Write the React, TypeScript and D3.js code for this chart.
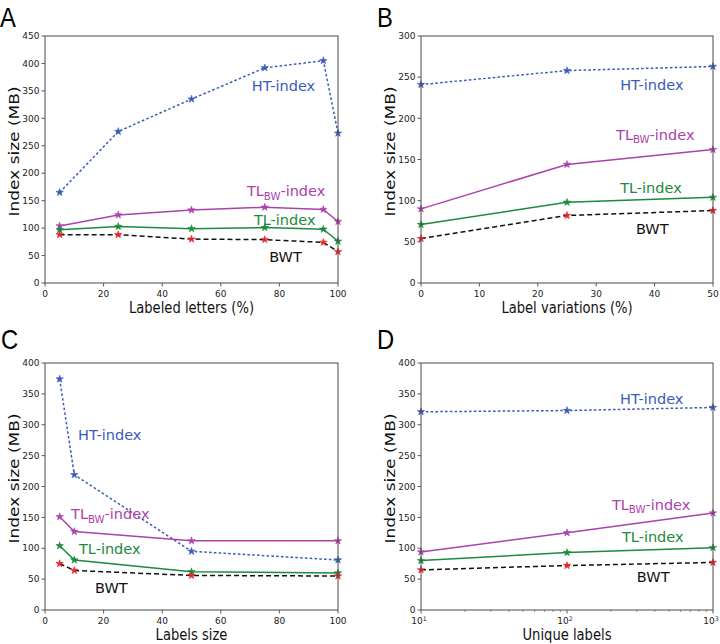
import React from "react";
import * as d3 from "d3";

// ---------- data ----------
// Panel A: labeled letters (%)
const lettersX = [5, 25, 50, 75, 95, 100];
const lettersHT = [165, 276, 335, 392, 405, 273];
const lettersTLBW = [104, 124, 133, 138, 134, 112];
const lettersTL = [97, 103, 99, 101, 98, 76];
const lettersBWT = [88, 88, 80, 79, 74, 57];
const lettersXTicks = [0, 20, 40, 60, 80, 100];
const lettersYTicks = [0, 50, 100, 150, 200, 250, 300, 350, 400, 450];

// Panel B: label variations (%)
const variationsX = [0, 25, 50];
const variationsHT = [241, 258, 263];
const variationsTLBW = [90, 144, 162];
const variationsTL = [71, 98, 104];
const variationsBWT = [54, 82, 88];
const variationsXTicks = [0, 10, 20, 30, 40, 50];
const variationsYTicks = [0, 50, 100, 150, 200, 250, 300];

// Panel C: labels size
const sizeX = [5, 10, 50, 100];
const sizeHT = [374, 219, 95, 81];
const sizeTLBW = [151, 127, 112, 112];
const sizeTL = [104, 81, 62, 60];
const sizeBWT = [75, 64, 56, 55];
const sizeXTicks = [0, 20, 40, 60, 80, 100];
const sizeYTicks = [0, 50, 100, 150, 200, 250, 300, 350, 400];

// Panel D: unique labels (log)
const uniqueX = [10, 100, 1000];
const uniqueHT = [321, 323, 328];
const uniqueTLBW = [94, 125, 157];
const uniqueTL = [80, 93, 101];
const uniqueBWT = [65, 72, 77];
const uniqueXTicks = [10, 100, 1000];
const uniqueXTickExp = ["1", "2", "3"];
const uniqueYTicks = [0, 50, 100, 150, 200, 250, 300, 350, 400];

const seriesNames = ["HT", "TLBW", "TL", "BWT"];

// annotation anchors (data coordinates: left x, baseline y)
const lettersLabelX = [70.6, 68.9, 71.3, 76.5];
const lettersLabelY = [350, 158, 105, 38];
const variationsLabelX = [34.1, 33.4, 34.1, 36.8];
const variationsLabelY = [235, 174, 109, 59];
const sizeLabelX = [11.3, 8.9, 11.6, 17.1];
const sizeLabelY = [275, 147, 91, 27];
const uniqueLabelX = [231, 203, 238, 301];
const uniqueLabelY = [333, 162, 110, 45];

// ---------- styles ----------
const styles: Record<string, { line: string; marker: string; dash: string; text: string }> = {
  HT: { line: "#3b5cb8", marker: "#3b5cb8", dash: "2.6,2.2", text: "#3b5cb8" },
  TLBW: { line: "#ac42ac", marker: "#ac42ac", dash: "", text: "#ac42ac" },
  TL: { line: "#1d8a3d", marker: "#1d8a3d", dash: "", text: "#1d8a3d" },
  BWT: { line: "#111111", marker: "#e8262a", dash: "5,3", text: "#111111" },
};

const TICK_FONT = "DejaVu Sans, sans-serif";
const SQUEEZE = 0.82;

type PanelProps = {
  letter: string;
  letterX: number;
  letterY: number;
  left: number;
  top: number;
  width: number;
  height: number;
  xs: number[];
  series: number[][];
  xDomain: [number, number];
  yDomain: [number, number];
  xTicks: number[];
  yTicks: number[];
  log?: boolean;
  xTickExp?: string[];
  xLabel: string;
  labelX: number[];
  labelY: number[];
};

function SeriesLabel({ name, x, y }: { name: string; x: number; y: number }) {
  const st = styles[name];
  const fs = 14.5;
  if (name === "TLBW") {
    return (
      <text x={x} y={y} fill={st.text} fontSize={fs} fontFamily={TICK_FONT}>
        <tspan>TL</tspan>
        <tspan fontSize={fs * 0.7} dy={3.5}>BW</tspan>
        <tspan dy={-3.5}>-index</tspan>
      </text>
    );
  }
  const txt = name === "BWT" ? "BWT" : name + "-index";
  return (
    <text x={x} y={y} fill={st.text} fontSize={fs} fontFamily={TICK_FONT}>
      {txt}
    </text>
  );
}

function Panel(p: PanelProps) {
  const x = p.log
    ? d3.scaleLog().domain(p.xDomain).range([p.left, p.left + p.width])
    : d3.scaleLinear().domain(p.xDomain).range([p.left, p.left + p.width]);
  const y = d3.scaleLinear().domain(p.yDomain).range([p.top + p.height, p.top]);
  const bottom = p.top + p.height;
  const right = p.left + p.width;
  const spine = "#4a4a4a";
  const star = d3.symbol(d3.symbolStar, 17)();
  const minor: number[] = [];
  if (p.log) {
    for (let dec = 10; dec < 1000; dec *= 10) {
      for (let k = 2; k <= 9; k++) minor.push(dec * k);
    }
  }
  return (
    <g>
      <text
        transform={`translate(${p.letterX},${p.letterY}) scale(0.88,1)`}
        fontSize={27}
        fontFamily="Liberation Sans, Arial, sans-serif"
        fill="#000"
      >
        {p.letter}
      </text>
      {/* series lines */}
      {seriesNames.map((name, si) => {
        const st = styles[name];
        const pts = p.xs.map((xv, i) => [x(xv), y(p.series[si][i])] as [number, number]);
        const path = d3.line()(pts) || "";
        return (
          <g key={name}>
            <path d={path} fill="none" stroke={st.line} strokeWidth={1.5} strokeDasharray={st.dash || undefined} />
            {pts.map((pt, i) => (
              <path key={i} d={star} transform={`translate(${pt[0]},${pt[1]})`} fill={st.marker} stroke={st.marker} strokeWidth={0.6} />
            ))}
          </g>
        );
      })}
      {/* spines */}
      <rect x={p.left} y={p.top} width={p.width} height={p.height} fill="none" stroke={spine} strokeWidth={1} />
      {/* y ticks */}
      {p.yTicks.map((t) => (
        <g key={"y" + t}>
          <line x1={p.left - 3.5} x2={p.left} y1={y(t)} y2={y(t)} stroke={spine} strokeWidth={0.9} />
          <text x={p.left - 5.5} y={y(t) + 3.2} textAnchor="end" fontSize={9} fontFamily={TICK_FONT} fill="#222">
            {t}
          </text>
        </g>
      ))}
      {/* x ticks */}
      {p.xTicks.map((t, i) => (
        <g key={"x" + t}>
          <line x1={x(t)} x2={x(t)} y1={bottom} y2={bottom + 3.5} stroke={spine} strokeWidth={0.9} />
          {p.log && p.xTickExp ? (
            <text x={x(t) - 2} y={bottom + 14} textAnchor="middle" fontSize={9} fontFamily={TICK_FONT} fill="#222">
              10
              <tspan fontSize={6.3} dy={-3.5}>{p.xTickExp[i]}</tspan>
            </text>
          ) : (
            <text x={x(t)} y={bottom + 14} textAnchor="middle" fontSize={9} fontFamily={TICK_FONT} fill="#222">
              {t}
            </text>
          )}
        </g>
      ))}
      {minor.map((t) => (
        <line key={"m" + t} x1={x(t)} x2={x(t)} y1={bottom} y2={bottom + 2} stroke={spine} strokeWidth={0.6} />
      ))}
      {/* axis labels */}
      <text
        transform={`translate(${(p.left + right) / 2},${bottom + 30}) scale(${SQUEEZE},1)`}
        textAnchor="middle"
        fontSize={16}
        fontFamily={TICK_FONT}
        fill="#111"
      >
        {p.xLabel}
      </text>
      <text
        transform={`translate(${p.left - 26},${p.top + p.height / 2 - 8}) rotate(-90) scale(1,${SQUEEZE})`}
        textAnchor="middle"
        fontSize={17}
        fontFamily={TICK_FONT}
        fill="#111"
      >
        Index size (MB)
      </text>
      {/* series annotations */}
      {seriesNames.map((name, si) => (
        <SeriesLabel key={"l" + name} name={name} x={x(p.labelX[si])} y={y(p.labelY[si])} />
      ))}
    </g>
  );
}

export default function App() {
  return (
    <svg
      width={720}
      height={644}
      viewBox="0 0 720 644"
      style={{ position: "absolute", left: 0, top: 0, background: "#fff" }}
    >
      <rect x={0} y={0} width={720} height={644} fill="#fff" />
      <Panel
        letter="A" letterX={0} letterY={27}
        left={45} top={36} width={293} height={247}
        xs={lettersX}
        series={[lettersHT, lettersTLBW, lettersTL, lettersBWT]}
        xDomain={[0, 100]} yDomain={[0, 450]}
        xTicks={lettersXTicks} yTicks={lettersYTicks}
        xLabel="Labeled letters (%)"
        labelX={lettersLabelX} labelY={lettersLabelY}
      />
      <Panel
        letter="B" letterX={377} letterY={27}
        left={421} top={36} width={292} height={247}
        xs={variationsX}
        series={[variationsHT, variationsTLBW, variationsTL, variationsBWT]}
        xDomain={[0, 50]} yDomain={[0, 300]}
        xTicks={variationsXTicks} yTicks={variationsYTicks}
        xLabel="Label variations (%)"
        labelX={variationsLabelX} labelY={variationsLabelY}
      />
      <Panel
        letter="C" letterX={1} letterY={349}
        left={45} top={363} width={293} height={247}
        xs={sizeX}
        series={[sizeHT, sizeTLBW, sizeTL, sizeBWT]}
        xDomain={[0, 100]} yDomain={[0, 400]}
        xTicks={sizeXTicks} yTicks={sizeYTicks}
        xLabel="Labels size"
        labelX={sizeLabelX} labelY={sizeLabelY}
      />
      <Panel
        letter="D" letterX={377} letterY={349}
        left={421} top={363} width={292} height={247}
        xs={uniqueX}
        series={[uniqueHT, uniqueTLBW, uniqueTL, uniqueBWT]}
        xDomain={[10, 1000]} yDomain={[0, 400]}
        xTicks={uniqueXTicks} yTicks={uniqueYTicks}
        log xTickExp={uniqueXTickExp}
        xLabel="Unique labels"
        labelX={uniqueLabelX} labelY={uniqueLabelY}
      />
    </svg>
  );
}
